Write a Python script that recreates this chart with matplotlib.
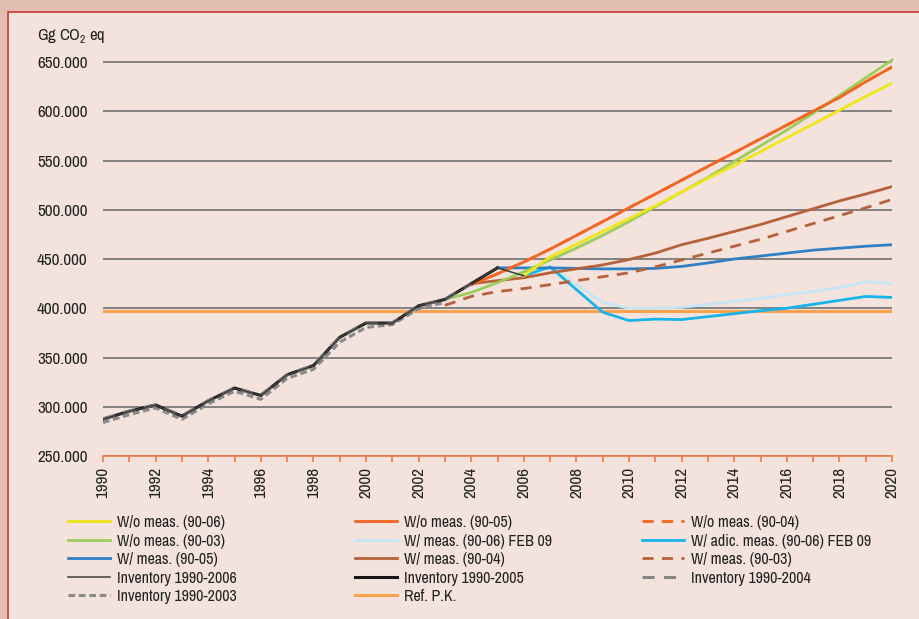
import numpy as np
import matplotlib
matplotlib.use("Agg")
from matplotlib import pyplot as plt
from matplotlib.patches import Rectangle
from matplotlib.ticker import FuncFormatter, MultipleLocator

plt.rcParams['font.family'] = ['Archivo Narrow', 'Liberation Sans Narrow', 'Liberation Sans', 'DejaVu Sans']
plt.rcParams['mathtext.fontset'] = 'custom'
plt.rcParams['mathtext.rm'] = 'Archivo Narrow'

# data (Gg CO2 eq)
inv_years = list(range(1990, 2007))
inv_2006 = [287400, 295500, 301800, 290500, 306000, 319000, 311500, 332500, 341800, 370500,
            385000, 385000, 402500, 409000, 425000, 441000, 433000]
inv_2005 = inv_2006[:16]
inv_2004 = [287800, 295800, 302000, 290800, 306300, 319200, 311800, 332700, 342000, 370800,
            385200, 385300, 402300, 408800, 424800]
inv_2003 = [284000, 292000, 298800, 287200, 302800, 315800, 307600, 328800, 338000, 365500,
            380500, 383500, 399500, 406000]

proj_years = list(range(2003, 2021))
wo_06 = [None, None, None, 433000, 452000, 465000, 478000, 491000, 504000, 518000, 532000,
         545000, 559000, 573000, 587000, 601000, 615000, 628500]
wo_05 = [None, 424000, 435000, 447000, 460000, 474000, 488000, 502000, 516000, 530000, 544000,
         558000, 572000, 586000, 600000, 614000, 630000, 645000]
wo_04 = [None, 424000, 435000, 447000, 460000, 474000, 488000, 502000, 516000, 530000, 544000,
         558000, 572000, 586000, 600000, 614000, 630000, 645000]
wo_03 = [409000, 416000, 426000, 437000, 449000, 461000, 474000, 488000, 503000, 518000,
         533000, 549000, 565000, 581000, 598000, 616000, 634000, 652000]
w_06_feb09 = [None, None, None, 433000, 442000, 424000, 406000, 400000, 400000, 401000,
              404000, 407000, 410000, 414000, 417000, 421000, 427000, 425000]
w_adic_06 = [None, None, None, 433000, 442000, 419000, 396000, 387500, 389000, 388500,
             391500, 394500, 397500, 400000, 404000, 408000, 412000, 411000]
w_05 = [None, None, 441000, 441000, 441000, 440500, 440000, 440000, 440500, 442500,
        446000, 450000, 453000, 456000, 459000, 461000, 463000, 464500]
w_04 = [None, 425000, 428000, 431000, 436000, 440000, 444000, 449500, 456000, 464500,
        471000, 478000, 485000, 493000, 501000, 509000, 516000, 523500]
w_03 = [403000, 412000, 417000, 420000, 424000, 428000, 432000, 436000, 442000, 449000,
        456000, 463000, 470000, 478000, 486000, 494000, 502000, 510500]
ref_pk = 397500

def series(vals):
    y = np.array([np.nan if v is None else v for v in vals], dtype=float)
    return np.array(proj_years), y

fig = plt.figure(figsize=(9.19, 6.19), dpi=100)
fig.patch.set_facecolor('#e2bdb1')
fig.patches.append(Rectangle((8/919, -0.1), 1.2, 1 - 12/619 + 0.1, transform=fig.transFigure,
                             facecolor='#f3e3dc', edgecolor='#c8393a', lw=1.2, zorder=-10))

ax = fig.add_axes([103/919, 1 - 456/619, 789/919, (456 - 52.2)/619])
ax.set_facecolor('none')

lw = 2.0
h = {}
h['ref'], = ax.plot([1990, 2020], [ref_pk, ref_pk], color='#f8a34c', lw=2.2, label='Ref. P.K.')
h['lb'], = ax.plot(*series(w_06_feb09), color='#c6e6f7', lw=lw, label='W/ meas. (90-06) FEB 09')
h['cy'], = ax.plot(*series(w_adic_06), color='#16b4ea', lw=lw, label='W/ adic. meas. (90-06) FEB 09')
h['bl'], = ax.plot(*series(w_05), color='#2f7fc3', lw=lw, label='W/ meas. (90-05)')
h['br3'], = ax.plot(*series(w_03), color='#b5613a', lw=lw, ls=(0, (4, 3)), label='W/ meas. (90-03)')
h['br4'], = ax.plot(*series(w_04), color='#b5613a', lw=lw, label='W/ meas. (90-04)')
h['or4'], = ax.plot(*series(wo_04), color='#f26522', lw=lw, ls=(0, (4, 3)), label='W/o meas. (90-04)')
h['gr'], = ax.plot(*series(wo_03), color='#9ccc5c', lw=lw, label='W/o meas. (90-03)', clip_on=False)
h['ye'], = ax.plot(*series(wo_06), color='#efe61a', lw=lw, label='W/o meas. (90-06)')
h['or5'], = ax.plot(*series(wo_05), color='#f26522', lw=lw, label='W/o meas. (90-05)')
h['i3'], = ax.plot(inv_years[:14], inv_2003, color='#8a8a8a', lw=2.2, ls=(0, (2.2, 1.2)), label='Inventory 1990-2003')
h['i5'], = ax.plot(inv_years[:16], inv_2005, color='#161616', lw=2.2, label='Inventory 1990-2005')
h['i4'], = ax.plot(inv_years[:15], inv_2004, color='#858585', lw=2.2, ls=(0, (4, 3)), label='Inventory 1990-2004')
h['i6'], = ax.plot(inv_years, inv_2006, color='#3c3c3c', lw=1.1, label='Inventory 1990-2006')

ax.set_xlim(1990, 2020)
ax.set_ylim(250000, 660000)
ax.set_yticks(np.arange(250000, 650001, 50000))
ax.yaxis.set_major_formatter(FuncFormatter(lambda v, p: f"{int(v):,}".replace(",", ".")))
ax.xaxis.set_major_locator(MultipleLocator(2))
ax.xaxis.set_minor_locator(MultipleLocator(1))
ax.grid(axis='y', color='#7a7a7a', lw=1.3)
ax.set_axisbelow(True)
for s in ['top', 'right', 'left']:
    ax.spines[s].set_visible(False)
ax.spines['bottom'].set_color('#ee7d45')
ax.spines['bottom'].set_linewidth(1.2)
ax.tick_params(axis='y', length=0, pad=11, labelsize=12.3, labelcolor='#222222')
ax.tick_params(axis='x', which='both', length=4, width=1.2, color='#ee7d45', labelsize=12.3,
               labelrotation=90, pad=4, labelcolor='#222222')

fig.text(37/919, 1 - 36/619, r'Gg CO$_2$ eq', fontsize=12, color='#222222', va='center')

cols = [['ye', 'gr', 'bl', 'i6', 'i3'],
        ['or5', 'lb', 'br4', 'i5', 'ref'],
        ['or4', 'cy', 'br3', 'i4']]
xs = [68, 355, 642]
for i, c in enumerate(cols):
    leg = fig.legend([h[k] for k in c], [h[k].get_label() for k in c], loc='upper left',
                     bbox_to_anchor=(xs[i]/919, 1 - 515/619), frameon=False, fontsize=11.5,
                     handlelength=2.6, handletextpad=0.45, labelspacing=0.22, borderpad=0,
                     borderaxespad=0, labelcolor='#222222')

fig.savefig('out.png', dpi=100, facecolor=fig.get_facecolor())
